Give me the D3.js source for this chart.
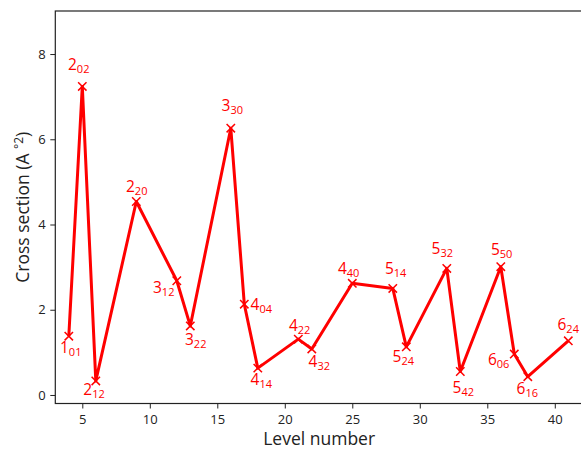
<!DOCTYPE html>
<html>
<head>
<meta charset="utf-8">
<script src="https://cdn.jsdelivr.net/npm/d3@7"></script>
<style>
  html, body { margin: 0; padding: 0; background: #fff; }
  svg { display: block; }
</style>
</head>
<body>
<svg id="chart" width="581" height="449"></svg>
<script>
// ---- data ----
const levels = [4, 5, 6, 9, 12, 13, 16, 17, 18, 21, 22, 25, 28, 29, 32, 33, 36, 37, 38, 41];
const crossSection = [1.38, 7.24, 0.33, 4.54, 2.68, 1.62, 6.26, 2.13, 0.63, 1.31, 1.08, 2.62, 2.50, 1.13, 2.97, 0.55, 3.01, 0.96, 0.43, 1.27];
const labelMain = ["1","2","2","2","3","3","3","4","4","4","4","4","5","5","5","5","5","6","6","6"];
const labelSub  = ["01","02","12","20","12","22","30","04","14","22","32","40","14","24","32","42","50","06","16","24"];
const xTicks = [5, 10, 15, 20, 25, 30, 35, 40];
const yTicks = [0, 2, 4, 6, 8];
const xLabel = "Level number";
const yLabelParts = ["Cross section (A ", "°2", ")"];

// label placement offsets (pixels, relative to point)
const labelOffsets = [
  [-8.8, 16.7], [-14.3, -16], [-12.5, 14], [-10.3, -9], [-23.8, 12.3],
  [-5.3, 19], [-9.2, -17.3], [6.3, 5.7], [-7.2, 16.7], [-9.4, -8.3],
  [-3.2, 17.7], [-14.4, -9.3], [-7.9, -14.3], [-13.7, 15], [-15.2, -14.3],
  [-7.7, 21.3], [-9.9, -11.7], [-26.4, 11], [-11.2, 17.3], [-10.8, -10.7]
];

// ---- layout ----
const mLeft = 55.3, mRight = 583, mTop = 11, mBottom = 403.5;
const font = "'Open Sans', 'DejaVu Sans', sans-serif";
const red = "#ff0000";

const svg = d3.select("#chart");
const x = d3.scaleLinear().domain([3, 42.09]).range([mLeft, mRight]);
const y = d3.scaleLinear().domain([-0.2, 9.01]).range([mBottom, mTop]);

const data = levels.map((l, i) => ({ x: l, y: crossSection[i], m: labelMain[i], s: labelSub[i], o: labelOffsets[i] }));

// axes
const xAxis = svg.append("g").attr("transform", `translate(0,${mBottom})`)
  .call(d3.axisBottom(x).tickValues(xTicks).tickSize(5).tickPadding(5.8).tickSizeOuter(0));
const yAxis = svg.append("g").attr("transform", `translate(${mLeft},0)`)
  .call(d3.axisLeft(y).tickValues(yTicks).tickSize(5).tickPadding(4.5).tickSizeOuter(0));
[xAxis, yAxis].forEach(g => {
  g.select(".domain").remove();
  g.selectAll(".tick line").attr("stroke", "#222").attr("stroke-width", 1);
  g.selectAll(".tick text").attr("fill", "#222").style("font-family", font).style("font-size", "13px");
});

// frame (spines)
svg.append("rect").attr("x", mLeft).attr("y", mTop)
  .attr("width", mRight - mLeft).attr("height", mBottom - mTop)
  .attr("fill", "none").attr("stroke", "#222").attr("stroke-width", 1.2);

// line
const line = d3.line().x(d => x(d.x)).y(d => y(d.y));
svg.append("path").datum(data).attr("d", line)
  .attr("fill", "none").attr("stroke", red).attr("stroke-width", 3)
  .attr("stroke-linejoin", "round");

// markers (x)
const ms = 4.2;
svg.append("g").selectAll("path").data(data).join("path")
  .attr("d", d => {
    const cx = x(d.x), cy = y(d.y);
    return `M${cx - ms},${cy - ms}L${cx + ms},${cy + ms}M${cx - ms},${cy + ms}L${cx + ms},${cy - ms}`;
  })
  .attr("stroke", red).attr("stroke-width", 1.5).attr("fill", "none");

// labels
const lab = svg.append("g").selectAll("text").data(data).join("text")
  .attr("x", d => x(d.x) + d.o[0])
  .attr("y", d => y(d.y) + d.o[1])
  .attr("fill", red)
  .style("font-family", font)
  .style("font-size", "15.5px");
lab.append("tspan").text(d => d.m);
lab.append("tspan").attr("dy", 3).style("font-size", "11px").text(d => d.s);

// axis labels
svg.append("text").attr("x", (mLeft + mRight) / 2).attr("y", 445)
  .attr("text-anchor", "middle").attr("fill", "#222")
  .style("font-family", font).style("font-size", "17.5px").text(xLabel);
const yl = svg.append("text").attr("transform", `translate(28.5,${(mTop + mBottom) / 2}) rotate(-90)`)
  .attr("text-anchor", "middle").attr("fill", "#222")
  .style("font-family", font).style("font-size", "17.5px");
yl.append("tspan").text(yLabelParts[0]);
yl.append("tspan").attr("dy", -6).style("font-size", "12px").text(yLabelParts[1]);
yl.append("tspan").attr("dy", 6).text(yLabelParts[2]);
</script>
</body>
</html>
